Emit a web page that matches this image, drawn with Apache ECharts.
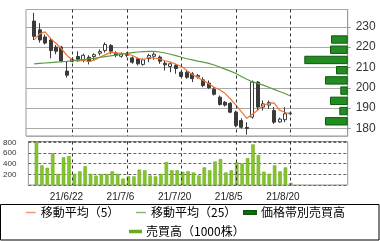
<!DOCTYPE html>
<html><head><meta charset="utf-8">
<script src="https://cdn.jsdelivr.net/npm/echarts@6/dist/echarts.min.js"></script>
<style>html,body{margin:0;padding:0;background:#fff}#c{width:380px;height:241px}</style>
</head><body><div id="c"></div>
<script>
// ---- data ----
const categories = ['21/6/10','21/6/11','21/6/14','21/6/15','21/6/16','21/6/17','21/6/18','21/6/21','21/6/22','21/6/23','21/6/24','21/6/25','21/6/28','21/6/29','21/6/30','21/7/1','21/7/2','21/7/5','21/7/6','21/7/7','21/7/8','21/7/9','21/7/12','21/7/13','21/7/14','21/7/15','21/7/16','21/7/19','21/7/20','21/7/21','21/7/26','21/7/27','21/7/28','21/7/29','21/7/30','21/8/2','21/8/3','21/8/4','21/8/5','21/8/6','21/8/10','21/8/11','21/8/12','21/8/13','21/8/16','21/8/17','21/8/18','21/8/19','21/8/20','21/8/23','21/8/24','21/8/25','21/8/26','21/8/27','21/8/30','21/8/31','21/9/1','21/9/2','21/9/3'];
const tickLabels = ['21/6/22','21/7/6','21/7/20','21/8/5','21/8/20'];
// [open, close, low, high]
const ohlc = ['-',
 [232.8,225.3,223.5,236.9],[228.5,223.5,222.2,231.8],[225.0,222.0,221.3,226.2],[223.5,218.3,214.5,224.6],
 [220.0,218.0,216.5,221.0],[220.0,213.2,212.5,220.6],[208.2,206.2,205.0,212.7],[213.0,214.0,212.5,215.0],
 [215.4,214.0,212.8,218.0],[213.5,216.0,212.6,216.7],[215.0,213.0,211.5,216.0],[215.4,216.3,213.4,217.0],
 [217.0,217.8,215.9,218.9],[218.3,221.3,217.3,222.3],[220.8,218.0,216.5,221.5],[217.0,216.0,215.0,218.0],
 [215.5,216.7,214.8,217.3],[216.5,216.0,215.0,217.5],[214.7,212.6,211.8,215.4],[214.3,211.8,211.0,214.8],
 [211.5,213.8,210.9,214.5],[214.3,215.9,212.6,216.7],[215.5,216.5,213.8,217.5],[215.1,213.1,211.8,215.9],
 [212.1,211.3,208.5,213.4],[210.5,211.8,207.7,212.6],[211.0,209.5,206.9,211.8],[207.7,205.6,205.0,208.5],
 [207.7,205.2,204.4,208.5],[206.9,204.5,202.8,207.7],[205.3,206.0,204.5,206.8],[203.9,201.1,200.3,205.2],
 [202.3,200.0,199.5,203.6],[199.3,196.8,196.2,200.3],[195.4,191.8,191.3,196.2],[192.9,191.5,190.8,193.5],
 [192.4,188.0,187.5,193.0],[188.0,181.5,180.6,188.8],[183.9,180.6,180.0,185.0],[180.5,180.0,177.0,183.0],
 [185.6,202.8,184.8,203.6],[202.8,190.5,188.8,203.3],[190.5,192.1,188.8,193.8],[191.5,192.8,189.6,193.8],
 [188.8,183.1,182.3,190.5],[183.2,184.6,182.8,185.3],[184.3,187.2,183.1,190.5],[187.3,187.6,186.5,188.3]];
const ma5 = ['-',223.6,226.5,227.5,224.3,221.9,219.2,215.9,213.8,213.1,213.6,212.8,213.6,215.0,216.2,217.4,217.2,
 217.0,216.7,215.9,214.6,213.8,215.0,214.6,214.3,213.3,212.6,211.6,210.6,208.5,206.5,205.0,203.6,202.0,200.3,
 199.0,197.3,194.5,191.5,188.3,185.0,187.0,189.0,191.5,192.3,192.6,189.0,188.0,187.0];
const ma25 = ['-',211.8,212.0,212.2,212.4,212.6,212.8,213.0,213.3,213.6,213.9,214.2,214.5,214.9,215.3,215.7,216.1,
 216.5,216.9,217.3,217.6,217.8,217.9,217.9,217.6,217.1,216.5,215.8,215.0,214.3,213.7,213.1,212.6,212.0,211.2,
 210.2,209.2,208.2,207.0,205.6,204.2,203.0,202.2,201.3,200.3,199.2,198.2,197.2,196.0];
const volume = ['-',812,368,323,594,210,520,543,210,257,352,210,175,206,206,257,210,120,165,162,289,276,178,162,210,
 432,276,276,245,257,235,178,330,276,440,486,235,276,425,403,505,760,562,250,213,368,257,330,40];
const priceBins = ['180-185','185-190','190-195','195-200','200-205','205-210','210-215','215-220','220-225'];
const binVolume = [22.7,8.4,17.7,7.4,22.7,11.7,43.4,17.7,16.7];
const names = ['移動平均（5）','移動平均（25）','価格帯別売買高','売買高（1000株）'];

const priceMin = 176.3, priceMax = 238.5, volMax = 815;
const numFont = "'Liberation Sans', Arial, sans-serif";
const cjkFont = "'Noto Sans CJK JP', sans-serif";
const legendBox = {type:'rect', silent:true, shape:{x:0.5, y:204.5, width:378.5, height:35.5},
  style:{fill:'none', stroke:'#000', lineWidth:1}};

const chart = echarts.init(document.getElementById('c'), null, {renderer:'canvas'});
chart.setOption({
  animation:false,
  grid:[
    {left:26, top:9.5, width:321.7, height:126.5, show:true, borderColor:'#999', borderWidth:1},
    {left:26, top:141.5, width:321.7, height:43.5, show:true, borderColor:'#999', borderWidth:1},
    {left:297.7, top:34.4, width:50, height:92}
  ],
  xAxis:[
    {type:'category', gridIndex:0, data:categories, boundaryGap:true,
     axisLine:{show:false}, axisTick:{show:false}, axisLabel:{show:false}, splitLine:{show:false}},
    {type:'category', gridIndex:1, data:categories, boundaryGap:true,
     axisLine:{show:false}, axisTick:{show:false}, splitLine:{show:false},
     axisLabel:{show:true, interval:(i,v)=>tickLabels.indexOf(v)>=0, fontSize:10, color:'#222',
       fontFamily:"'Liberation Sans Narrow', 'Liberation Sans', sans-serif", margin:7, padding:[0,16,0,0]}},
    {type:'value', gridIndex:2, inverse:true, min:0, max:50, show:false}
  ],
  yAxis:[
    {type:'value', gridIndex:0, position:'right', min:priceMin, max:priceMax, splitNumber:6,
     axisLine:{show:true, lineStyle:{color:'#999'}}, axisTick:{show:true, length:3, lineStyle:{color:'#999'}},
     axisLabel:{fontSize:12, color:'#333', fontFamily:numFont, margin:8, showMinLabel:false, showMaxLabel:false},
     splitLine:{show:true, lineStyle:{color:'#aaa', width:1}}},
    {type:'value', gridIndex:1, position:'left', min:0, max:volMax, interval:200,
     axisLine:{show:false}, axisTick:{show:false},
     axisLabel:{fontSize:8, color:'#333', fontFamily:numFont, margin:12, showMinLabel:false, showMaxLabel:false},
     splitLine:{show:true, lineStyle:{color:'#666', type:[3,2], width:1}}},
    {type:'category', gridIndex:2, data:priceBins, show:false}
  ],
  legend:[
    {left:25.7, top:206.5, padding:0, itemWidth:10, itemHeight:1.5, icon:'rect',
     textStyle:{fontSize:12, color:'#000', fontFamily:cjkFont}, data:[{name:names[0], itemStyle:{color:'#ec9a70'}}]},
    {left:136, top:206.5, padding:0, itemWidth:10, itemHeight:1.5, icon:'rect',
     textStyle:{fontSize:12, color:'#000', fontFamily:cjkFont}, data:[{name:names[1], itemStyle:{color:'#8ab874'}}]},
    {left:243, top:206.5, padding:0, itemWidth:12, itemHeight:3, icon:'rect',
     textStyle:{fontSize:12, color:'#000', fontFamily:cjkFont}, data:[{name:names[2], itemStyle:{color:'#127a12'}}]},
    {left:129, top:225.5, padding:0, itemWidth:11, itemHeight:1.5, icon:'rect',
     textStyle:{fontSize:12, color:'#000', fontFamily:cjkFont}, data:[{name:names[3], itemStyle:{color:'#a6d84a'}}]}
  ],
  graphic:[legendBox],
  series:[
    {type:'bar', name:names[2], xAxisIndex:2, yAxisIndex:2, data:binVolume, barCategoryGap:'18%',
     itemStyle:{color:'#228b22', borderColor:'#0e5a0e', borderWidth:1}},
    {type:'candlestick', xAxisIndex:0, yAxisIndex:0, data:ohlc, barWidth:3.5, z:3,
     itemStyle:{color:'#ffffff', color0:'#3a3a3a', borderColor:'#3a3a3a', borderColor0:'#3a3a3a', borderWidth:1}},
    {type:'line', name:names[0], xAxisIndex:0, yAxisIndex:0, data:ma5, symbol:'none', z:4,
     lineStyle:{color:'#ee7535', width:1.2}, itemStyle:{color:'#ee7535'}},
    {type:'line', name:names[1], xAxisIndex:0, yAxisIndex:0, data:ma25, symbol:'none', z:4,
     lineStyle:{color:'#5a9a40', width:1.2}, itemStyle:{color:'#5a9a40'}},
    {type:'bar', name:names[3], xAxisIndex:1, yAxisIndex:1, data:volume, barWidth:3.5, z:3,
     itemStyle:{color:'#84c42c', borderColor:'#6aa81e', borderWidth:0.5}}
  ]
});

// dashed date lines, placed through the chart's own axis scales
const lines = [];
tickLabels.forEach(d => {
  const x = Math.round(chart.convertToPixel({xAxisIndex:0}, d)) + 0.5;
  const y0 = chart.convertToPixel({yAxisIndex:0}, priceMax);
  const y1 = chart.convertToPixel({yAxisIndex:0}, priceMin);
  const v0 = chart.convertToPixel({yAxisIndex:1}, volMax);
  const v1 = chart.convertToPixel({yAxisIndex:1}, 0);
  [[y0, y1], [v0, v1]].forEach(([a, b]) => {
    lines.push({type:'line', silent:true, z:10,
      shape:{x1:x, y1:a, x2:x, y2:b},
      style:{stroke:'#333', lineWidth:1, lineDash:[3,3]}});
  });
});
chart.setOption({graphic:[legendBox].concat(lines)});
</script></body></html>
